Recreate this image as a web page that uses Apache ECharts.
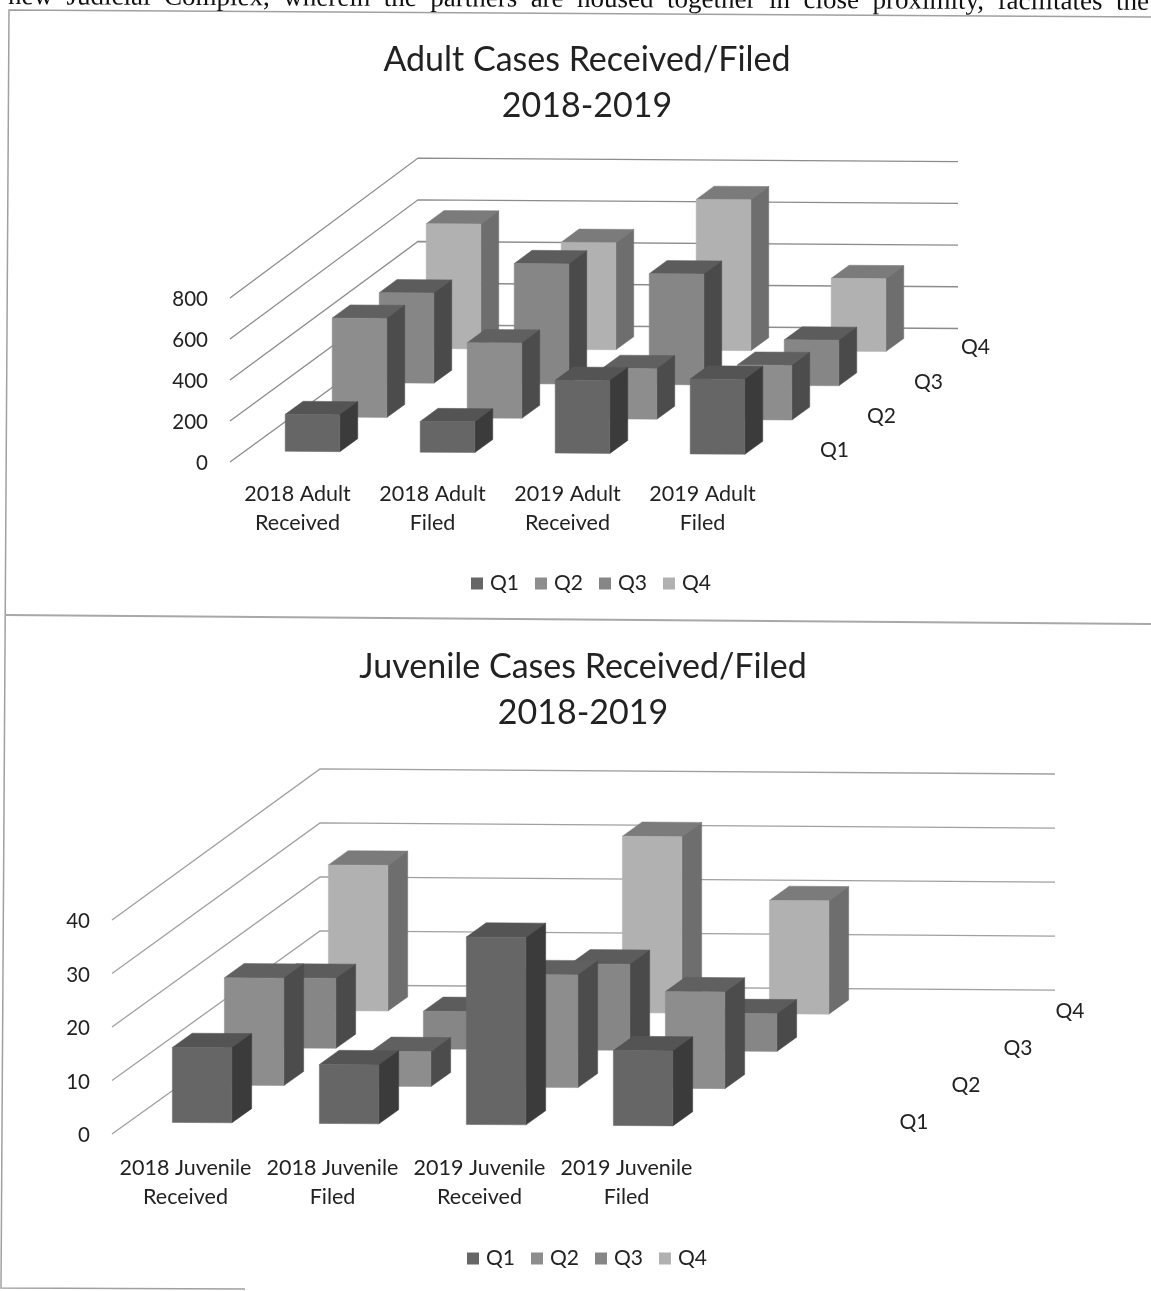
<!DOCTYPE html>
<html>
<head>
<meta charset="utf-8">
<style>html,body{margin:0;padding:0;background:#fff}#c{width:1151px;height:1291px}</style>
<script src="https://cdn.jsdelivr.net/npm/echarts@6/dist/echarts.min.js"></script>
</head>
<body>
<div id="c"></div>
<script>
const quarters = ['Q1', 'Q2', 'Q3', 'Q4'];

const adultCategories = ['2018 Adult\nReceived', '2018 Adult\nFiled', '2019 Adult\nReceived', '2019 Adult\nFiled'];
const adultTicks = [0, 200, 400, 600, 800];
const adultQ1 = [180, 150, 355, 365];
const adultQ2 = [480, 365, 245, 265];
const adultQ3 = [435, 580, 535, 220];
const adultQ4 = [600, 515, 725, 350];

const juvenileCategories = ['2018 Juvenile\nReceived', '2018 Juvenile\nFiled', '2019 Juvenile\nReceived', '2019 Juvenile\nFiled', ''];
const juvenileTicks = [0, 10, 20, 30, 40];
const juvenileQ1 = [14, 11, 35, 14];
const juvenileQ2 = [20, 6.5, 21, 18];
const juvenileQ3 = [13, 7, 16, 7];
const juvenileQ4 = [27, null, 32.7, 21];

const FONT = 'Lato, "Open Sans", sans-serif';
const INK = '#222222';
const shades = [
  {front: '#666666', top: '#545454', side: '#3b3b3b'},
  {front: '#8d8d8d', top: '#606060', side: '#4c4c4c'},
  {front: '#868686', top: '#5c5c5c', side: '#4a4a4a'},
  {front: '#b1b1b1', top: '#7b7b7b', side: '#6e6e6e'}
];
const slotFront = [0.08, 0.33, 0.58, 0.83];
const slotDepth = 0.095;
const barShare = 0.405;

const adultView = {dx: 188, dy: -137, persp: 0.018, tilt: 0.0065, line: '#8c8c8c'};
const juvenileView = {dx: 208, dy: -149, persp: 0.01, tilt: 0.007, line: '#a0a0a0'};

function project(pt, d, view, cs) {
  const base = cs.y + cs.height;
  return [
    pt[0] + d * view.dx,
    base + (pt[1] - base) * (1 + view.persp * d) + d * view.dy + view.tilt * (pt[0] - cs.x)
  ];
}

function wallSeries(ticks, view, idx) {
  return {
    type: 'custom', xAxisIndex: idx, yAxisIndex: idx, silent: true, z: 1,
    encode: {x: 0, y: 1},
    data: ticks.map(t => [0, t]),
    renderItem(params, api) {
      const cs = params.coordSys;
      const y = api.coord([0, api.value(1)])[1];
      const a = project([cs.x, y], 0, view, cs);
      const b = project([cs.x, y], 1, view, cs);
      const c = project([cs.x + cs.width, y], 1, view, cs);
      return {type: 'polyline', shape: {points: [a, b, c]}, style: {stroke: view.line, lineWidth: 1.3, fill: null}};
    }
  };
}

function barSeries(name, values, s, view, idx) {
  return {
    type: 'custom', name, xAxisIndex: idx, yAxisIndex: idx, z: 2 + (3 - s),
    itemStyle: {color: shades[s].front},
    encode: {x: 0, y: 1},
    data: values.map((v, i) => [i, v]),
    renderItem(params, api) {
      const v = api.value(1);
      if (v === null || isNaN(v)) return null;
      const cs = params.coordSys, c = api.value(0);
      const top = api.coord([c, v]), bot = api.coord([c, 0]);
      const w = api.size([1, 0])[0] * barShare;
      const xl = top[0] - w / 2, xr = top[0] + w / 2;
      const d0 = slotFront[s], d1 = d0 + slotDepth;
      const P = (x, y, d) => project([x, y], d, view, cs);
      const poly = (points, fill) => ({type: 'polygon', shape: {points}, style: {fill, stroke: fill, lineWidth: 0.5}});
      return {type: 'group', children: [
        poly([P(xl, top[1], d0), P(xr, top[1], d0), P(xr, top[1], d1), P(xl, top[1], d1)], shades[s].top),
        poly([P(xr, top[1], d0), P(xr, top[1], d1), P(xr, bot[1], d1), P(xr, bot[1], d0)], shades[s].side),
        poly([P(xl, top[1], d0), P(xr, top[1], d0), P(xr, bot[1], d0), P(xl, bot[1], d0)], shades[s].front)
      ]};
    }
  };
}

function depthLabelSeries(view, idx) {
  return {
    type: 'custom', xAxisIndex: idx, yAxisIndex: idx, silent: true, z: 8,
    encode: {x: 0, y: 1},
    data: quarters.map((q, i) => [i, 0]),
    renderItem(params, api) {
      const cs = params.coordSys, i = params.dataIndex;
      const y = api.coord([0, 0])[1];
      const p = project([cs.x + cs.width, y], 0.125 + 0.25 * i, view, cs);
      return {type: 'text', style: {
        x: p[0] + 41, y: p[1] + 2, text: quarters[i], fill: INK,
        font: '21px ' + FONT, align: 'center', verticalAlign: 'middle'
      }};
    }
  };
}

const buildX = (cats, idx, margin) => ({
  type: 'category', gridIndex: idx, data: cats,
  axisLine: {show: false}, axisTick: {show: false},
  axisLabel: {color: INK, fontSize: 21.5, fontFamily: FONT, margin, lineHeight: 29, interval: 0}
});
const buildY = (ticks, idx) => ({
  type: 'value', gridIndex: idx, min: ticks[0], max: ticks[ticks.length - 1], interval: ticks[1] - ticks[0],
  axisLine: {show: false}, axisTick: {show: false}, splitLine: {show: false},
  axisLabel: {color: INK, fontSize: 20.5, fontFamily: FONT, margin: 22, verticalAlign: 'top', lineHeight: 3}
});
const titleStyle = {color: INK, fontSize: 34, fontWeight: 'normal', fontFamily: FONT, lineHeight: 46, align: 'center'};
const legendBase = {data: quarters, icon: 'rect', itemWidth: 12, itemHeight: 12, itemGap: 16, orient: 'horizontal',
  textStyle: {color: INK, fontSize: 21, fontFamily: FONT, padding: [0, 0, 0, 2]}};

const adultValues = [adultQ1, adultQ2, adultQ3, adultQ4];
const juvenileValues = [juvenileQ1, juvenileQ2, juvenileQ3, juvenileQ4];
const order = [3, 2, 1, 0];

const option = {
  animation: false,
  backgroundColor: '#fff',
  title: [
    {text: 'Adult Cases Received/Filed\n2018-2019', left: 582, top: 32, textAlign: 'center', textStyle: titleStyle},
    {text: 'Juvenile Cases Received/Filed\n2018-2019', left: 578, top: 639, textAlign: 'center', textStyle: titleStyle}
  ],
  legend: [
    Object.assign({left: 466, top: 568}, legendBase),
    Object.assign({left: 462, top: 1243}, legendBase)
  ],
  grid: [
    {left: 230, top: 298, width: 540, height: 164},
    {left: 112, top: 920, width: 735, height: 214}
  ],
  xAxis: [buildX(adultCategories, 0, 18), buildX(juvenileCategories, 1, 20)],
  yAxis: [buildY(adultTicks, 0), buildY(juvenileTicks, 1)],
  series: [
    wallSeries(adultTicks, adultView, 0),
    ...order.map(s => barSeries(quarters[s], adultValues[s], s, adultView, 0)),
    depthLabelSeries(adultView, 0),
    wallSeries(juvenileTicks, juvenileView, 1),
    ...order.map(s => barSeries(quarters[s], juvenileValues[s], s, juvenileView, 1)),
    depthLabelSeries(juvenileView, 1)
  ],
  graphic: [
    {type: 'text', z: 20, silent: true, x: 8, y: 10.5, rotation: -0.005, style: {
      x: 0, y: 0, text: 'new  Judicial  Complex,  wherein  the  partners  are  housed  together  in  close  proximity,  facilitates  the',
      font: '27px "Liberation Serif", serif', fill: '#111', verticalAlign: 'bottom', align: 'left'}},
    {type: 'polyline', silent: true, shape: {points: [[1151, 17], [9, 10], [1, 1288], [245, 1289]]},
      style: {stroke: '#a0a0a0', lineWidth: 1.5, fill: null}},
    {type: 'line', silent: true, shape: {x1: 5, y1: 615, x2: 1151, y2: 624},
      style: {stroke: '#a8a8a8', lineWidth: 2}}
  ]
};
echarts.init(document.getElementById('c'), null, {renderer: 'canvas'}).setOption(option);
</script>
</body>
</html>
